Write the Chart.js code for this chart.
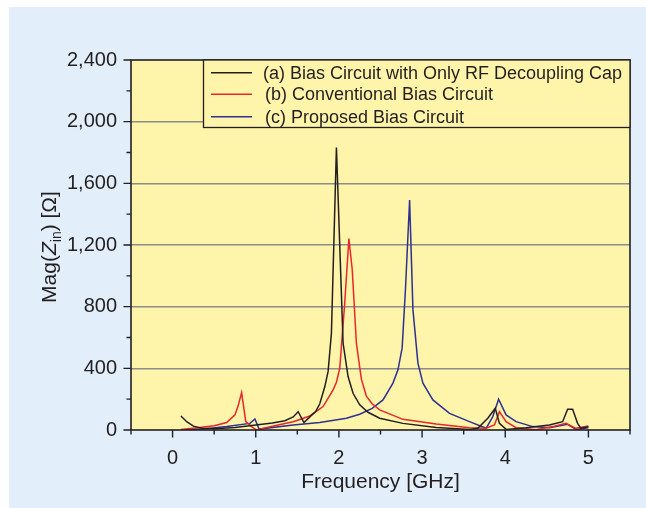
<!DOCTYPE html>
<html><head><meta charset="utf-8">
<script src="https://cdn.jsdelivr.net/npm/chart.js@4.4.0/dist/chart.umd.min.js"></script>
<style>html,body{margin:0;padding:0;background:#fff;}canvas{display:block;}</style>
</head><body>
<canvas id="c" width="646" height="508"></canvas>
<script>
// (a) Bias circuit with only RF decoupling cap
const freqA = [0.10,0.17,0.25,0.35,0.50,0.75,1.00,1.20,1.35,1.45,1.51,1.58,1.65,1.72,1.77,1.83,1.87,1.91,1.97,2.05,2.11,2.17,2.25,2.35,2.49,2.77,3.17,3.57,3.67,3.79,3.88,3.93,4.01,4.25,4.53,4.69,4.75,4.81,4.87,4.91,5.00];
const magA  = [91,54,25,12,8,16,33,46,60,85,119,48,85,120,170,280,380,629,1832,564,347,238,163,115,76,43,17,4,11,76,141,43,4,15,33,54,134,134,43,11,22];
// (b) Conventional bias circuit
const freqB = [0.10,0.30,0.50,0.65,0.75,0.79,0.83,0.88,0.95,1.01,1.20,1.45,1.65,1.81,1.93,1.97,2.01,2.07,2.12,2.16,2.21,2.27,2.33,2.40,2.49,2.77,3.17,3.57,3.77,3.87,3.93,4.01,4.13,4.37,4.57,4.73,4.85,5.00];
const magB  = [4,14,28,48,98,160,243,54,22,0,25,54,91,152,260,310,400,824,1242,1041,564,330,220,170,130,69,39,15,11,33,119,54,15,2,22,43,11,26];
// (c) Proposed bias circuit
const freqC = [0.10,0.40,0.65,0.93,0.99,1.04,1.45,1.77,2.09,2.25,2.40,2.53,2.65,2.71,2.76,2.80,2.85,2.89,2.95,3.01,3.13,3.33,3.57,3.77,3.85,3.92,4.01,4.13,4.33,4.53,4.75,4.85,5.00];
const magC  = [0,8,22,43,72,6,33,48,76,102,140,195,304,390,531,911,1492,781,434,304,195,108,54,11,87,200,98,54,22,15,37,4,15];

const seriesLabels = ['(a) Bias Circuit with Only RF Decoupling Cap','(b) Conventional Bias Circuit','(c) Proposed Bias Circuit'];
const seriesColors = ['#231f20','#e8262b','#2e3192'];
const xTickLabels = [0,1,2,3,4,5];
const yTickLabels = [0,400,800,1200,1600,2000,2400];

const FONT = '"Liberation Sans", Arial, Helvetica, sans-serif';
const INK = '#231f20';
const toPts = (xs, ys) => xs.map((x, i) => ({x: x, y: ys[i]}));
const fmt = v => String(v).replace(/\B(?=(\d{3})+(?!\d))/g, ',');

const deco = {
  id: 'deco',
  beforeDraw(chart) {
    const {ctx, chartArea: a} = chart;
    ctx.save();
    ctx.fillStyle = '#ffffff';
    ctx.fillRect(0, 0, chart.width, chart.height);
    ctx.fillStyle = '#e2eef9';
    ctx.fillRect(9, 7, chart.width - 9, chart.height - 7);
    ctx.fillStyle = '#fef4aa';
    ctx.fillRect(a.left, a.top, a.right - a.left, a.bottom - a.top);
    ctx.restore();
  },
  afterDatasetsDraw(chart) {
    const {ctx, chartArea: a} = chart;
    const xs = chart.scales.x, ys = chart.scales.y;
    ctx.save();
    // plot frame
    ctx.strokeStyle = INK;
    ctx.lineWidth = 1.6;
    ctx.strokeRect(a.left, a.top, a.right - a.left, a.bottom - a.top);
    // tick marks
    ctx.lineWidth = 1.4;
    ctx.beginPath();
    for (let i = 0; i <= 12; i++) {
      const v = -0.5 + i * 0.5;
      const px = xs.getPixelForValue(v);
      const len = (i % 2 === 1) ? 7.5 : 4.5;
      ctx.moveTo(px, a.bottom);
      ctx.lineTo(px, a.bottom + len);
    }
    for (let i = 0; i <= 12; i++) {
      const v = i * 200;
      const py = ys.getPixelForValue(v);
      const len = (i % 2 === 0) ? 7.5 : 4.5;
      ctx.moveTo(a.left - len, py);
      ctx.lineTo(a.left, py);
    }
    ctx.stroke();
    // legend box
    const lx = 203.5, ly = a.top, lw = a.right - 203.5, lh = 67.5;
    ctx.fillStyle = '#fef4aa';
    ctx.fillRect(lx, ly, lw, lh);
    ctx.lineWidth = 1.3;
    ctx.strokeRect(lx, ly, lw, lh);
    const rows = [72.7, 94.3, 116.7];
    ctx.font = '18px ' + FONT;
    ctx.textBaseline = 'middle';
    ctx.textAlign = 'left';
    chart.data.datasets.forEach((ds, i) => {
      ctx.strokeStyle = ds.borderColor;
      ctx.lineWidth = 1.4;
      ctx.beginPath();
      ctx.moveTo(211, rows[i]);
      ctx.lineTo(252, rows[i]);
      ctx.stroke();
      ctx.fillStyle = INK;
      ctx.fillText(ds.label, i === 0 ? 263 : 265, rows[i] + 1);
    });
    // y-axis title: Mag(Z_in) [Ω]
    ctx.translate(56, 247);
    ctx.rotate(-Math.PI / 2);
    ctx.textBaseline = 'alphabetic';
    const parts = [
      {t: 'Mag(', f: '21px ' + FONT, dy: 0},
      {t: 'Z', f: 'italic 21px ' + FONT, dy: 0},
      {t: 'in', f: '14px ' + FONT, dy: 5},
      {t: ') [\u03A9]', f: '21px ' + FONT, dy: 0}
    ];
    let total = 0;
    parts.forEach(p => { ctx.font = p.f; p.w = ctx.measureText(p.t).width; total += p.w; });
    let x = -total / 2;
    ctx.fillStyle = INK;
    parts.forEach(p => { ctx.font = p.f; ctx.fillText(p.t, x, p.dy); x += p.w; });
    ctx.restore();
  }
};

new Chart(document.getElementById('c'), {
  type: 'scatter',
  data: {
    datasets: [
      {label: seriesLabels[0], data: toPts(freqA, magA), borderColor: seriesColors[0]},
      {label: seriesLabels[1], data: toPts(freqB, magB), borderColor: seriesColors[1]},
      {label: seriesLabels[2], data: toPts(freqC, magC), borderColor: seriesColors[2]}
    ].map(d => Object.assign(d, {showLine: true, borderWidth: 1.5, pointRadius: 0, tension: 0, fill: false}))
  },
  options: {
    responsive: false,
    animation: false,
    devicePixelRatio: 1,
    layout: {padding: {top: 60, right: 15, left: 0, bottom: 0}},
    plugins: {legend: {display: false}, tooltip: {enabled: false}},
    scales: {
      x: {
        type: 'linear', min: -0.5, max: 5.5,
        border: {display: false},
        grid: {display: false, drawTicks: false},
        ticks: {
          stepSize: 0.5, autoSkip: false, maxRotation: 0, padding: 16, color: INK,
          font: {family: FONT, size: 20},
          callback: v => xTickLabels.includes(v) ? String(v) : ''
        },
        title: {display: true, text: 'Frequency [GHz]', color: INK, font: {family: FONT, size: 21}, padding: {top: 0, bottom: 13}},
        afterFit(s) { s.height = 78; }
      },
      y: {
        min: 0, max: 2400,
        border: {display: false},
        grid: {
          drawTicks: false, lineWidth: 1.5,
          color: c => (c.tick && c.tick.value % 400 === 0 && c.tick.value > 0 && c.tick.value < 2400) ? '#8c8c8c' : 'rgba(0,0,0,0)'
        },
        ticks: {
          stepSize: 200, autoSkip: false, padding: 14, color: INK,
          font: {family: FONT, size: 20},
          callback: v => yTickLabels.includes(v) ? fmt(v) : ''
        },
        afterFit(s) { s.width = 131; }
      }
    }
  },
  plugins: [deco]
});
</script>
</body></html>
